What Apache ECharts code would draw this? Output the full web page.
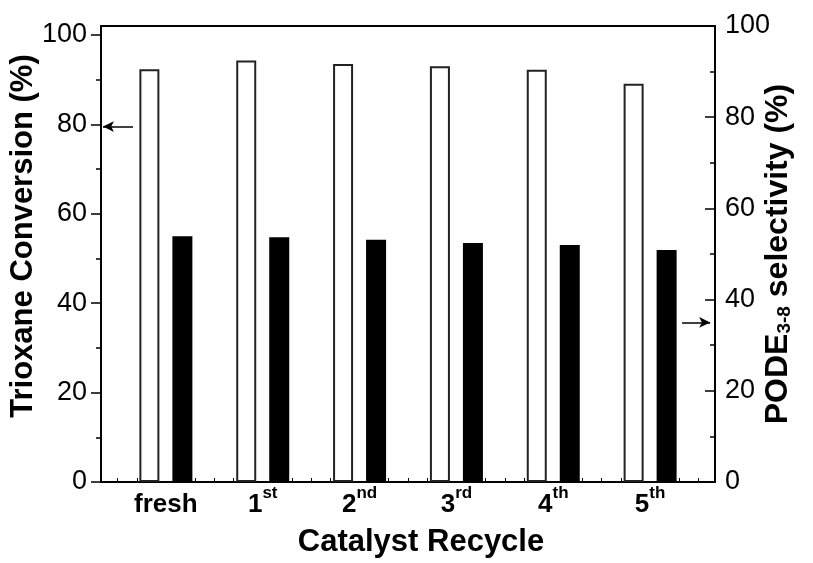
<!DOCTYPE html>
<html>
<head>
<meta charset="utf-8">
<script src="https://cdn.jsdelivr.net/npm/echarts@6/dist/echarts.min.js"></script>
<style>
  html, body { margin: 0; padding: 0; background: #fff; }
  #chartRecycle { width: 813px; height: 563px; }
</style>
</head>
<body>
<div id="chartRecycle"></div>
<script>
// categories: base text + superscript
const catPositions = [1, 2, 3, 4, 5, 6];
const catBase = ["fresh", "1", "2", "3", "4", "5"];
const catSup = ["", "st", "nd", "rd", "th", "th"];

// Trioxane conversion (%) - left axis, white bars
const conversion = [92.3, 94.3, 93.5, 93.0, 92.2, 89.1];
// PODE3-8 selectivity (%) - right axis, black bars
const selectivity = [53.9, 53.7, 53.1, 52.4, 52.0, 50.9];

const leftMajorTicks = [0, 20, 40, 60, 80, 100];
const leftMinorTicks = [10, 30, 50, 70, 90];

// arrows pointing at the axis each series belongs to
const convArrow = { from: [0.66, 79.5], to: [0.35, 79.5] };
const selArrow = { from: [6.33, 35.0], to: [6.62, 35.0] };

const xTicks = [];
for (let i = 0; i <= 30; i++) {
    xTicks.push(+(0.5 + i * 0.2).toFixed(2));
}

const fontFamily = "Liberation Sans, Arial, sans-serif";

function arrowSeries(yIndex, arrow) {
    return {
        type: "line",
        yAxisIndex: yIndex,
        data: [],
        silent: true,
        markLine: {
            silent: true,
            symbol: ["none", "arrow"],
            symbolSize: [8, 11],
            label: { show: false },
            lineStyle: { color: "#000", width: 1.5, type: "solid" },
            data: [[{ coord: arrow.from }, { coord: arrow.to }]],
        },
    };
}

function initChartRecycle() {
    const chartDom = document.getElementById("chartRecycle");
    const myChart = echarts.init(chartDom);

    const option = {
        animation: false,
        textStyle: { fontFamily: fontFamily, color: "#000" },
        grid: {
            left: 101,
            right: 98,
            top: 26,
            bottom: 81,
            outerBoundsMode: "none",
            show: true,
            borderColor: "#000",
            borderWidth: 2,
            backgroundColor: "transparent",
        },
        xAxis: {
            type: "value",
            min: 0.33,
            max: 6.67,
            splitLine: { show: false },
            axisLine: { show: true, lineStyle: { color: "#000", width: 2 } },
            axisTick: {
                show: true,
                inside: true,
                length: 4,
                customValues: xTicks,
                lineStyle: { color: "#000", width: 1 },
            },
            axisLabel: {
                customValues: catPositions,
                margin: 3,
                formatter: function (value) {
                    const i = catPositions.indexOf(value);
                    if (i < 0) return "";
                    let s = "{b|" + catBase[i] + "}";
                    if (catSup[i]) s += "{s|" + catSup[i] + "}";
                    return s;
                },
                rich: {
                    b: { fontSize: 26, fontWeight: "bold", lineHeight: 40, fontFamily: fontFamily, color: "#000" },
                    s: { fontSize: 17, fontWeight: "bold", lineHeight: 18, verticalAlign: "top", fontFamily: fontFamily, color: "#000" },
                },
            },
            name: "Catalyst Recycle",
            nameLocation: "middle",
            nameMoveOverlap: false,
            nameGap: 45,
            nameTextStyle: {
                fontSize: 31,
                fontWeight: "bold",
                color: "#000",
                padding: [0, 0, 0, 26],
            },
        },
        yAxis: [
            {
                type: "value",
                position: "left",
                min: 0,
                max: 102,
                splitLine: { show: false },
                axisLine: { show: true, lineStyle: { color: "#000", width: 2 } },
                axisTick: {
                    show: true,
                    length: 10,
                    customValues: leftMajorTicks,
                    lineStyle: { color: "#000", width: 1.5 },
                },
                axisLabel: {
                    customValues: leftMajorTicks,
                    fontSize: 27,
                    margin: 14,
                    color: "#000",
                },
                name: "Trioxane Conversion (%)",
                nameLocation: "middle",
                nameMoveOverlap: false,
                nameRotate: 90,
                nameGap: 62,
                nameTextStyle: {
                    fontSize: 31,
                    fontWeight: "bold",
                    color: "#000",
                    padding: [0, 0, 0, 36],
                },
            },
            {
                type: "value",
                position: "right",
                min: 0,
                max: 100,
                interval: 20,
                splitLine: { show: false },
                axisLine: { show: true, lineStyle: { color: "#000", width: 2 } },
                axisTick: {
                    show: true,
                    inside: true,
                    length: 10,
                    lineStyle: { color: "#000", width: 1.5 },
                },
                minorTick: {
                    show: true,
                    splitNumber: 2,
                    length: 5,
                    lineStyle: { color: "#000", width: 1.5 },
                },
                minorSplitLine: { show: false },
                axisLabel: { fontSize: 27, margin: 10, color: "#000" },
                name: "PODE{sub|3-8} selectivity (%)",
                nameLocation: "middle",
                nameMoveOverlap: false,
                nameRotate: 90,
                nameGap: 47,
                nameTextStyle: {
                    fontSize: 32,
                    fontWeight: "bold",
                    color: "#000",
                    rich: {
                        sub: { fontSize: 19, fontWeight: "bold", verticalAlign: "bottom", lineHeight: 30, color: "#000" },
                    },
                },
            },
            {
                // minor ticks of the left axis
                type: "value",
                position: "left",
                min: 0,
                max: 102,
                splitLine: { show: false },
                axisLine: { show: false },
                axisTick: {
                    show: true,
                    length: 5,
                    customValues: leftMinorTicks,
                    lineStyle: { color: "#000", width: 1.5 },
                },
                axisLabel: { show: false },
            },
        ],
        series: [
            {
                name: "Trioxane Conversion",
                type: "bar",
                yAxisIndex: 0,
                barWidth: 20,
                barGap: "65%",
                data: catPositions.map(function (x, i) { return [x, conversion[i]]; }),
                itemStyle: { color: "#fff", borderColor: "#222", borderWidth: 2 },
            },
            {
                name: "PODE3-8 selectivity",
                type: "bar",
                yAxisIndex: 1,
                barWidth: 20,
                barGap: "65%",
                data: catPositions.map(function (x, i) { return [x, selectivity[i]]; }),
                itemStyle: { color: "#000" },
            },
            arrowSeries(0, convArrow),
            arrowSeries(1, selArrow),
        ],
    };
    myChart.setOption(option);

    window.addEventListener("resize", function () {
        if (myChart != null && myChart != undefined) {
            myChart.resize();
        }
    });
}

initChartRecycle();
</script>
</body>
</html>
